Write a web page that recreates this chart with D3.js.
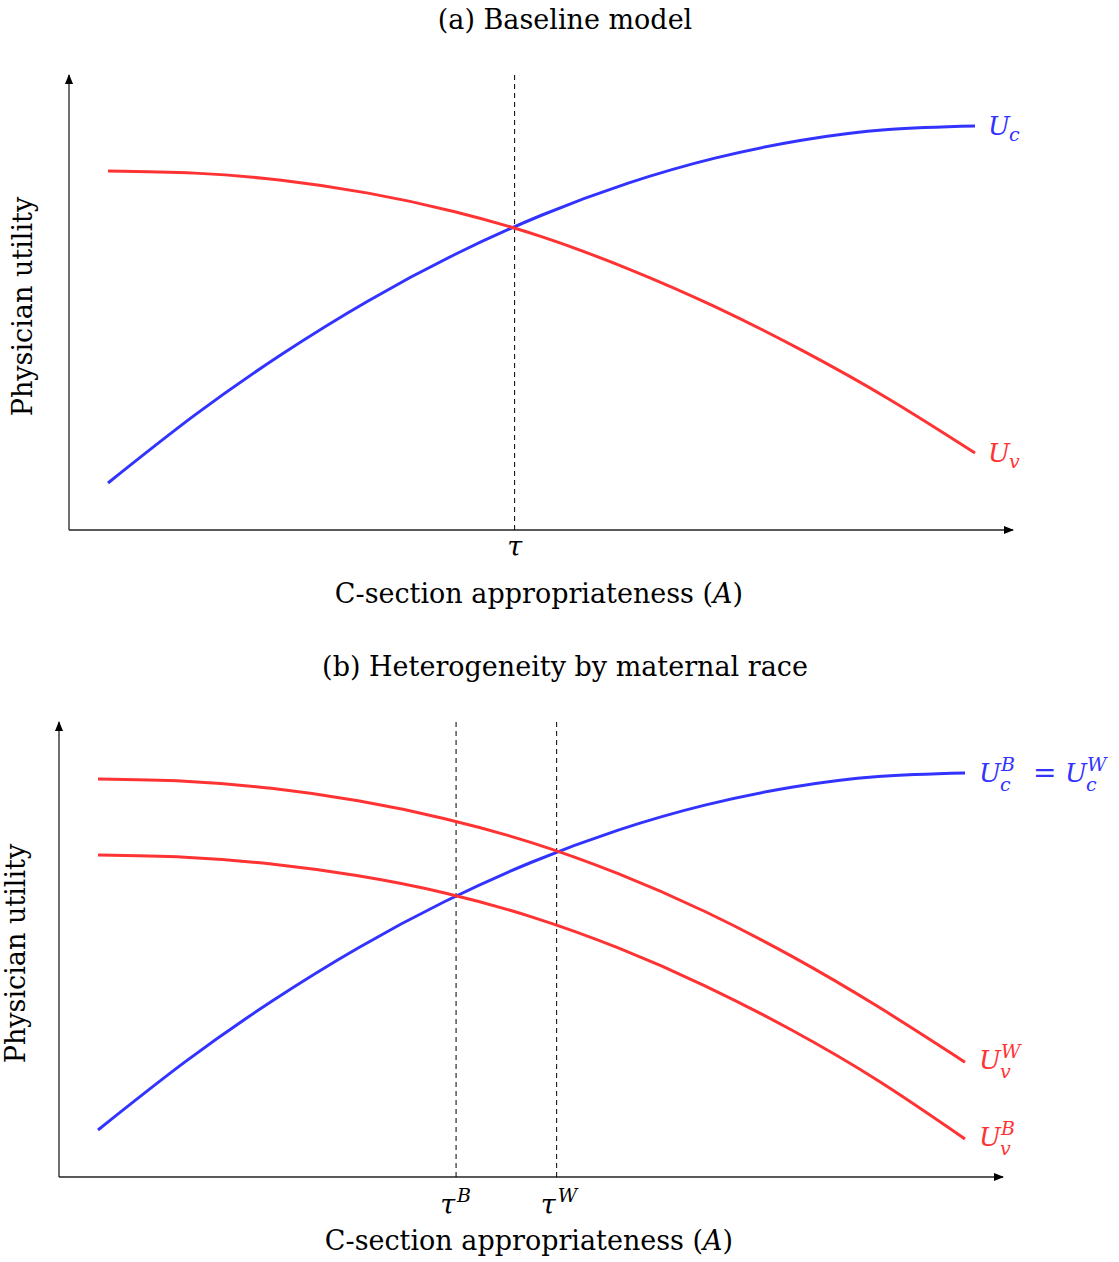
<!DOCTYPE html>
<html>
<head>
<meta charset="utf-8">
<script src="https://cdn.jsdelivr.net/npm/d3@7"></script>
<style>
  body { margin: 0; background: #fff; }
  text { font-family: "DejaVu Serif", "Liberation Serif", serif; fill: #000; }
</style>
</head>
<body>
<svg id="chart" width="1119" height="1262"></svg>
<script>
// appropriateness grid (A, scaled 0..1 over the drawn curve)
var aGrid = [0, 0.1, 0.2, 0.3, 0.4, 0.5, 0.6, 0.7, 0.8, 0.9, 1.0];

// utility of c-section, same in both panels
var ucVals  = [0, 0.19, 0.36, 0.51, 0.64, 0.75, 0.84, 0.91, 0.96, 0.99, 1.00];
// panel (a) vaginal delivery utility
var uvVals  = [0.874, 0.868, 0.848, 0.812, 0.760, 0.690, 0.600, 0.494, 0.372, 0.236, 0.084];
// panel (b) vaginal utility by race
var uvWVals = [0.983, 0.977, 0.957, 0.922, 0.872, 0.805, 0.718, 0.612, 0.487, 0.345, 0.190];
var uvBVals = [0.770, 0.764, 0.745, 0.712, 0.664, 0.597, 0.510, 0.404, 0.280, 0.138, -0.025];

// thresholds
var tauA = 0.469;
var tauB = 0.413;
var tauW = 0.529;

var blue = "#3333ff", red = "#ff3333";

var svg = d3.select("#chart");

var x = d3.scaleLinear().domain([0, 1]).range([0, 867]);
var y = d3.scaleLinear().domain([0, 1]).range([357, 0]);

var line = d3.line()
    .x(d => x(d[0]))
    .y(d => y(d[1]))
    .curve(d3.curveNatural);

// arrow marker
var defs = svg.append("defs");
defs.append("marker")
    .attr("id", "arrow")
    .attr("viewBox", "0 0 10 8")
    .attr("refX", 9)
    .attr("refY", 4)
    .attr("markerWidth", 10)
    .attr("markerHeight", 8)
    .attr("markerUnits", "userSpaceOnUse")
    .attr("orient", "auto")
    .append("path")
    .attr("d", "M0,0 L10,4 L0,8 Z")
    .attr("fill", "#000");

function zip(vals) { return aGrid.map((a, i) => [a, vals[i]]); }

function drawPanel(ox, oy, title, titleY, yLabGap, series, taus, labels) {
    var g = svg.append("g")
        .attr("transform", "translate(" + ox + "," + oy + ")");

    var xMin = x.invert(-39), xMax = x.invert(867 + 38);
    var yMin = y.invert(404), yMax = y.invert(-51);

    // axes
    g.append("line")
        .attr("x1", x(xMin)).attr("y1", y(yMin))
        .attr("x2", x(xMax)).attr("y2", y(yMin))
        .attr("stroke", "#222").attr("stroke-width", 1.3)
        .attr("marker-end", "url(#arrow)");
    g.append("line")
        .attr("x1", x(xMin)).attr("y1", y(yMin))
        .attr("x2", x(xMin)).attr("y2", y(yMax))
        .attr("stroke", "#222").attr("stroke-width", 1.3)
        .attr("marker-end", "url(#arrow)");

    // thresholds
    taus.forEach(function(t) {
        g.append("line")
            .attr("x1", x(t.v)).attr("x2", x(t.v))
            .attr("y1", y(yMin)).attr("y2", y(yMax))
            .attr("stroke", "#000").attr("stroke-width", 1)
            .attr("stroke-dasharray", "5,4");
        if (t.sup) {
            g.append("text")
                .attr("x", x(t.v) - 1)
                .attr("y", y(yMin) + 37)
                .attr("text-anchor", "end")
                .style("font-size", "27px").style("font-style", "italic")
                .text("τ");
            g.append("text")
                .attr("x", x(t.v) + 1)
                .attr("y", y(yMin) + 25)
                .style("font-size", "19px").style("font-style", "italic")
                .text(t.sup);
        } else {
            g.append("text")
                .attr("x", x(t.v))
                .attr("y", y(yMin) + 26)
                .attr("text-anchor", "middle")
                .style("font-size", "27px").style("font-style", "italic")
                .text("τ");
        }
    });

    // curves
    series.forEach(function(s) {
        g.append("path")
            .datum(zip(s.vals))
            .attr("fill", "none")
            .attr("stroke", s.color)
            .attr("stroke-width", 3)
            .attr("d", line);
    });

    // curve labels, each piece placed from the curve end
    labels.forEach(function(l) {
        l.parts.forEach(function(p) {
            g.append("text")
                .attr("x", x(1) + l.dx + p.dx)
                .attr("y", y(l.at) + p.dy)
                .style("font-size", p.size || "26px")
                .style("font-style", p.italic ? "italic" : "normal")
                .style("fill", l.color)
                .text(p.t);
        });
    });

    // title
    svg.append("text")
        .attr("x", 565)
        .attr("y", titleY)
        .attr("text-anchor", "middle")
        .style("font-size", "27px")
        .text(title);

    // x label
    var xl = g.append("text")
        .attr("x", (x(xMin) + x(xMax)) / 2 - 2)
        .attr("y", y(yMin) + 73)
        .attr("text-anchor", "middle")
        .style("font-size", "27px");
    xl.append("tspan").text("C-section appropriateness (");
    xl.append("tspan").style("font-style", "italic").text("A");
    xl.append("tspan").text(")");

    // y label
    g.append("text")
        .attr("transform", "translate(" + (x(xMin) - yLabGap) + "," + ((y(yMin) + y(yMax)) / 2 + 4) + ") rotate(-90)")
        .attr("text-anchor", "middle")
        .style("font-size", "27px")
        .text("Physician utility");
}

drawPanel(108, 126, "(a) Baseline model", 29, 37,
    [{vals: ucVals, color: blue}, {vals: uvVals, color: red}],
    [{v: tauA}],
    [
        {at: ucVals[10], dx: 13, color: blue,
         parts: [{t: "U", italic: true, dx: 0, dy: 9},
                 {t: "c", italic: true, size: "19px", dx: 21, dy: 15}]},
        {at: uvVals[10], dx: 13, color: red,
         parts: [{t: "U", italic: true, dx: 0, dy: 9},
                 {t: "v", italic: true, size: "19px", dx: 21, dy: 15}]}
    ]);

drawPanel(98, 773, "(b) Heterogeneity by maternal race", 676, 34,
    [{vals: ucVals, color: blue}, {vals: uvWVals, color: red}, {vals: uvBVals, color: red}],
    [{v: tauB, sup: "B"}, {v: tauW, sup: "W"}],
    [
        {at: ucVals[10], dx: 14, color: blue,
         parts: [{t: "U", italic: true, dx: 0, dy: 9},
                 {t: "B", italic: true, size: "19px", dx: 22, dy: -2},
                 {t: "c", italic: true, size: "19px", dx: 21, dy: 18},
                 {t: "=", size: "28px", dx: 54, dy: 9},
                 {t: "U", italic: true, dx: 86, dy: 9},
                 {t: "W", italic: true, size: "19px", dx: 108, dy: -2},
                 {t: "c", italic: true, size: "19px", dx: 107, dy: 18}]},
        {at: uvWVals[10], dx: 14, color: red,
         parts: [{t: "U", italic: true, dx: 0, dy: 7},
                 {t: "W", italic: true, size: "19px", dx: 22, dy: -4},
                 {t: "v", italic: true, size: "19px", dx: 21, dy: 16}]},
        {at: uvBVals[10], dx: 14, color: red,
         parts: [{t: "U", italic: true, dx: 0, dy: 7},
                 {t: "B", italic: true, size: "19px", dx: 22, dy: -4},
                 {t: "v", italic: true, size: "19px", dx: 21, dy: 16}]}
    ]);
</script>
</body>
</html>
